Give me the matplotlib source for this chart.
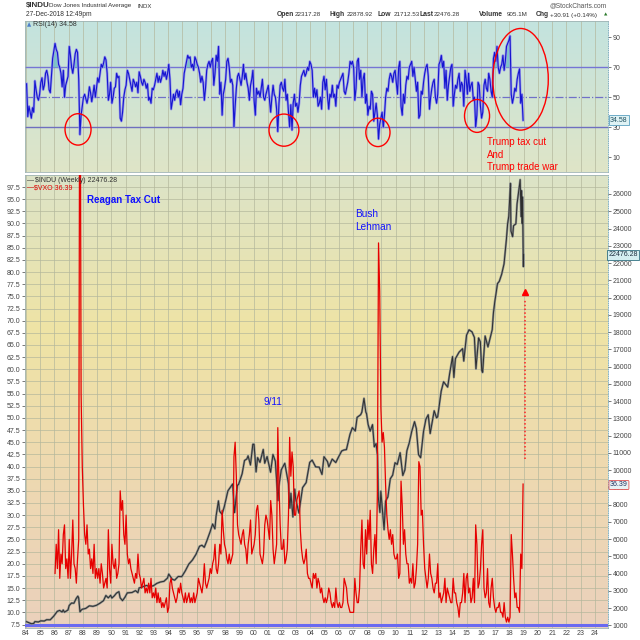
import numpy as np
import matplotlib
matplotlib.use('Agg')
import matplotlib.pyplot as plt
from matplotlib.patches import Ellipse
from matplotlib.colors import LinearSegmentedColormap
import pandas as pd

plt.rcParams['font.family'] = ['Liberation Sans', 'DejaVu Sans']

# ---------------- data ----------------
years = list(range(1984, 2025))
year_labels = [f"{y % 100:02d}" for y in years]

djia_dates = [
 '1984-01-15','1984-03-15','1984-05-15','1984-07-15','1984-08-15','1984-11-15',
 '1985-01-15','1985-04-15','1985-06-15','1985-09-15','1985-12-15',
 '1986-03-15','1986-05-15','1986-07-15','1986-08-15','1986-09-15','1986-12-15',
 '1987-01-15','1987-03-15','1987-05-15','1987-07-15','1987-08-25','1987-09-15','1987-10-19','1987-11-15','1987-12-15',
 '1988-03-15','1988-06-15','1988-09-15','1988-12-15',
 '1989-03-15','1989-06-15','1989-08-15','1989-10-15','1989-12-15',
 '1990-01-15','1990-03-15','1990-05-15','1990-07-15','1990-08-15','1990-10-15','1990-12-15',
 '1991-02-15','1991-04-15','1991-06-15','1991-09-15','1991-11-15','1991-12-15',
 '1992-03-15','1992-06-15','1992-09-15','1992-12-15',
 '1993-03-15','1993-06-15','1993-09-15','1993-12-15',
 '1994-01-15','1994-04-15','1994-06-15','1994-09-15','1994-12-15',
 '1995-03-15','1995-06-15','1995-09-15','1995-12-15',
 '1996-03-15','1996-05-15','1996-07-15','1996-09-15','1996-12-15',
 '1997-02-15','1997-04-15','1997-05-15','1997-07-15','1997-08-15','1997-10-15','1997-12-15',
 '1998-03-15','1998-07-15','1998-08-31','1998-09-15','1998-11-15','1998-12-15',
 '1999-03-15','1999-05-15','1999-07-15','1999-08-15','1999-10-15','1999-12-15',
 '2000-01-15','2000-03-07','2000-04-15','2000-06-15','2000-09-07','2000-10-15','2000-12-15',
 '2001-03-15','2001-05-15','2001-07-15','2001-09-21','2001-10-15','2001-12-15',
 '2002-03-15','2002-06-15','2002-07-23','2002-08-20','2002-10-09','2002-11-25','2002-12-20',
 '2003-03-11','2003-06-15','2003-09-15','2003-12-15',
 '2004-02-15','2004-05-15','2004-08-15','2004-10-25','2004-12-15',
 '2005-03-15','2005-04-20','2005-07-15','2005-10-15','2005-12-15',
 '2006-03-15','2006-05-15','2006-07-15','2006-10-15','2006-12-15',
 '2007-02-28','2007-04-15','2007-07-15','2007-08-15','2007-10-09','2007-11-25','2007-12-15',
 '2008-01-22','2008-03-15','2008-05-15','2008-06-30','2008-08-15','2008-09-20','2008-10-10','2008-11-20','2008-12-15',
 '2009-02-20','2009-03-09','2009-04-15','2009-06-15','2009-08-15','2009-10-15','2009-12-15',
 '2010-02-10','2010-04-25','2010-07-02','2010-08-25','2010-10-15','2010-12-15',
 '2011-02-15','2011-04-29','2011-06-15','2011-08-10','2011-10-03','2011-12-15',
 '2012-02-15','2012-04-15','2012-06-04','2012-09-15','2012-11-15','2012-12-15',
 '2013-03-15','2013-05-15','2013-08-28','2013-10-15','2013-12-31',
 '2014-02-03','2014-03-15','2014-06-15','2014-09-15','2014-10-15','2014-12-26',
 '2015-02-28','2015-05-15','2015-07-15','2015-08-24','2015-10-31','2015-12-15',
 '2016-01-20','2016-02-11','2016-04-15','2016-06-27','2016-10-15','2016-11-15','2016-12-20',
 '2017-02-28','2017-04-15','2017-06-15','2017-08-15','2017-10-15','2017-11-15','2017-12-15',
 '2018-01-26','2018-02-08','2018-03-23','2018-04-15','2018-06-15','2018-07-15','2018-08-15',
 '2018-09-15','2018-10-03','2018-10-26','2018-11-08','2018-11-23','2018-12-03','2018-12-24','2018-12-27',
]
djia_values = [
 1220,1165,1105,1115,1225,1205,
 1270,1260,1335,1330,1545,
 1820,1875,1780,1900,1770,1900,
 2160,2300,2290,2570,2700,2600,1790,1880,1940,
 1990,2140,2110,2170,
 2290,2440,2740,2600,2750,
 2590,2710,2880,2960,2610,2440,2630,
 2890,2900,2910,3020,2900,3170,
 3240,3320,3270,3300,
 3440,3520,3560,3750,
 3980,3680,3625,3840,3830,
 4160,4560,4790,5120,
 5590,5650,5530,5880,6450,
 6880,6600,7330,8220,7620,7440,7910,
 8800,9200,7540,7840,9120,9180,
 9790,10560,10650,10830,10300,11500,
 11500,9900,10730,10450,11200,10400,10790,
 9880,10910,10520,8240,9070,10020,
 10400,9240,7800,8660,7290,8900,8340,
 7520,8990,9280,10450,
 10580,10190,10170,9750,10780,
 10500,10190,10640,10440,10720,
 11110,11170,11190,12080,12460,
 12270,13060,13210,13360,14160,13370,13260,
 12650,12260,12640,11350,11540,10850,8450,7550,8780,
 7060,6550,8200,8450,9500,9710,10430,
 10330,11010,9690,10010,11120,11580,
 12230,12810,12410,10900,10720,12220,
 12950,13210,12120,13440,13030,13100,
 14580,15120,14810,15550,16580,
 15370,16460,16830,17040,16320,17820,
 18130,18010,17690,15870,17660,17430,
 15770,15660,17770,17140,18140,19120,19760,
 20810,20940,21350,21950,23380,24270,24720,
 26617,23860,23530,24160,24270,25420,25960,
 26460,26830,24690,26190,24290,25830,21790,22476,
]

vxo_start = 1986
vxo_values = [
 # 1986
 18, 24, 19, 27, 17, 22, 20, 26, 28, 19, 21, 17,
 # 1987
 25, 17, 22, 29, 20, 19, 16, 21, 25, 150, 55, 40,
 # 1988
 32, 26, 24, 28, 22, 23, 19, 21, 18, 24, 17, 19,
 # 1989
 17, 19, 16, 20, 18, 15, 16, 17, 15, 27, 19, 16,
 # 1990
 24, 20, 19, 21, 17, 18, 20, 35, 31, 33, 26, 24,
 # 1991
 30, 22, 20, 21, 19, 18, 17, 16, 18, 17, 22, 18,
 # 1992
 17, 15, 16, 17, 14, 15, 14, 16, 14, 17, 13, 14,
 # 1993
 13, 15, 12, 14, 12, 13, 11, 12, 11, 12, 13, 10,
 # 1994
 11, 16, 17, 15, 14, 13, 12, 13, 15, 14, 16, 14,
 # 1995
 13, 12, 14, 12, 13, 14, 12, 13, 12, 14, 12, 13,
 # 1996
 14, 17, 16, 15, 14, 16, 20, 16, 15, 16, 17, 19,
 # 1997
 18, 20, 21, 24, 19, 18, 20, 24, 22, 31, 27, 24,
 # 1998
 23, 21, 20, 22, 20, 21, 22, 42, 45, 38, 28, 26,
 # 1999
 25, 24, 26, 27, 24, 23, 20, 24, 26, 29, 22, 23,
 # 2000
 24, 26, 31, 32, 29, 22, 21, 20, 22, 28, 30, 29,
 # 2001
 27, 25, 33, 30, 23, 20, 22, 24, 48, 36, 28, 23,
 # 2002
 23, 25, 20, 21, 23, 30, 46, 38, 43, 40, 30, 30,
 # 2003
 33, 34, 35, 27, 23, 21, 20, 21, 23, 18, 17, 17,
 # 2004
 16, 15, 18, 17, 18, 15, 17, 16, 14, 15, 13, 12,
 # 2005
 13, 12, 13, 15, 14, 12, 11, 12, 11, 15, 12, 11,
 # 2006
 12, 11, 11, 12, 17, 16, 15, 12, 11, 10, 10, 10,
 # 2007
 10, 17, 14, 12, 12, 15, 23, 29, 20, 19, 27, 22,
 # 2008
 29, 25, 31, 20, 18, 23, 26, 20, 34, 86, 76, 52,
 # 2009
 45, 47, 44, 36, 30, 27, 25, 27, 24, 26, 22, 21,
 # 2010
 21, 22, 17, 18, 37, 32, 24, 27, 22, 20, 20, 16,
 # 2011
 17, 16, 20, 15, 16, 19, 24, 41, 40, 30, 31, 24,
 # 2012
 19, 17, 15, 17, 22, 18, 17, 15, 14, 16, 16, 20,
 # 2013
 13, 14, 12, 13, 14, 17, 12, 15, 14, 13, 12, 12,
 # 2014
 17, 14, 14, 12, 11, 9, 12, 12, 14, 18, 12, 17,
 # 2015
 18, 14, 15, 12, 13, 17, 12, 28, 24, 15, 16, 19,
 # 2016
 24, 27, 15, 13, 14, 19, 12, 11, 15, 17, 13, 11,
 # 2017
 10, 11, 11, 12, 10, 10, 9, 12, 9, 8, 9, 8,
 # 2018
 9, 26, 22, 17, 13, 14, 11, 11, 10, 22, 19, 36.39,
]

rsi_start = 1984
rsi_values = [
 59, 37, 44, 40, 36, 43, 40, 61, 55, 50, 48, 52,   # 1984
 60, 63, 55, 58, 66, 68, 64, 55, 53, 65, 76, 81,   # 1985
 86, 82, 80, 72, 70, 66, 57, 68, 50, 58, 61, 64,   # 1986
 84, 78, 70, 66, 72, 79, 82, 80, 62, 25, 38, 44,   # 1987
 50, 52, 49, 46, 50, 57, 53, 47, 52, 58, 50, 56,   # 1988
 63, 60, 66, 72, 70, 73, 77, 75, 66, 48, 52, 60,   # 1989
 46, 50, 56, 57, 66, 63, 64, 36, 34, 40, 50, 55,   # 1990
 58, 68, 66, 62, 58, 54, 62, 60, 57, 60, 53, 67,   # 1991
 64, 60, 58, 62, 60, 56, 59, 48, 50, 46, 56, 55,   # 1992
 58, 62, 66, 60, 64, 60, 63, 68, 64, 67, 62, 66,   # 1993
 72, 62, 42, 47, 52, 48, 53, 55, 50, 54, 45, 52,   # 1994
 56, 66, 70, 74, 78, 76, 77, 70, 72, 68, 77, 75,   # 1995
 72, 70, 66, 60, 64, 60, 48, 56, 68, 72, 74, 70,   # 1996
 74, 76, 58, 66, 78, 74, 84, 52, 60, 38, 52, 56,   # 1997
 62, 74, 76, 70, 60, 62, 58, 30, 44, 56, 64, 66,   # 1998
 62, 58, 64, 72, 62, 66, 60, 56, 48, 58, 62, 68,   # 1999
 48, 38, 56, 52, 54, 50, 56, 62, 50, 48, 52, 55,   # 2000
 58, 48, 40, 50, 58, 52, 50, 42, 27, 46, 58, 60,   # 2001
 56, 54, 62, 48, 52, 40, 30, 45, 28, 46, 52, 44,   # 2002
 46, 40, 46, 58, 64, 66, 68, 64, 66, 70, 68, 74,   # 2003
 72, 68, 50, 56, 50, 55, 44, 46, 50, 42, 60, 64,   # 2004
 55, 62, 50, 42, 52, 50, 58, 50, 52, 44, 58, 56,   # 2005
 60, 62, 64, 66, 54, 52, 56, 60, 66, 74, 72, 74,   # 2006
 70, 48, 56, 74, 76, 62, 68, 50, 62, 66, 46, 52,   # 2007
 38, 44, 42, 54, 52, 34, 40, 46, 38, 22, 32, 36,   # 2008
 40, 30, 38, 50, 56, 54, 62, 66, 64, 60, 66, 68,   # 2009
 60, 52, 70, 74, 44, 38, 52, 46, 58, 64, 62, 70,   # 2010
 72, 74, 64, 70, 62, 54, 60, 36, 38, 54, 52, 60,   # 2011
 66, 70, 72, 64, 42, 50, 56, 60, 62, 50, 46, 52,   # 2012
 72, 74, 78, 70, 74, 56, 68, 48, 58, 64, 70, 72,   # 2013
 44, 52, 58, 56, 62, 66, 54, 60, 58, 44, 68, 62,   # 2014
 52, 66, 54, 58, 60, 48, 50, 30, 38, 60, 58, 44,   # 2015
 36, 40, 58, 62, 56, 54, 66, 62, 54, 50, 76, 80,   # 2016
 74, 84, 70, 66, 70, 72, 78, 68, 74, 84, 86, 88,   # 2017
 91, 52, 46, 50, 56, 54, 62, 66, 69, 46, 52, 34.58, # 2018
]

vxo_ticks = [7.5 + 2.5 * i for i in range(37)]
djia_ticks = list(range(1000, 27000, 1000))
rsi_ticks = [10, 30, 50, 70, 90]

# ---------------- helpers ----------------
def to_dec(s):
    d = pd.Timestamp(s)
    return d.year + (d.dayofyear - 1) / 365.25

djia_t = np.array([to_dec(s) for s in djia_dates])
djia_v = np.array(djia_values, dtype=float)
vxo_v = np.array(vxo_values, dtype=float)
vxo_t = vxo_start + (np.arange(len(vxo_v)) + 0.5) / 12
rsi_v = np.array(rsi_values, dtype=float)
rsi_t = rsi_start + (np.arange(len(rsi_v)) + 0.5) / 12

W = H = 640
fig = plt.figure(figsize=(6.4, 6.4), dpi=100)
fig.patch.set_facecolor('white')

def fx(p): return p / W
def fy(p): return 1 - p / H

X0, X1 = 25, 608
RT, RB = 21, 172
MT, MB = 175, 628
XLIM = (1983.93, 2024.93)

ax_r = fig.add_axes([fx(X0), fy(RB), (X1 - X0) / W, (RB - RT) / H])
ax = fig.add_axes([fx(X0), fy(MB), (X1 - X0) / W, (MB - MT) / H])

def background(a, stops):
    cmap = LinearSegmentedColormap.from_list('g', stops)
    grad = np.linspace(0, 1, 256).reshape(-1, 1)
    a.imshow(grad, cmap=cmap, extent=[0, 1, 0, 1], transform=a.transAxes,
             aspect='auto', origin='lower', zorder=0)

background(ax_r, [(0, '#dfe5c7'), (1, '#c3e3df')])
background(ax, [(0, '#ebd1bc'), (0.35, '#eed9b0'), (0.66, '#efe4a5'), (1, '#dce3c8')])

grid_col = '#b3b79c'
tick_col = '#444444'
TS = 5.0

for a in (ax_r, ax):
    a.set_xlim(*XLIM)
    a.set_axisbelow(True)
    a.set_xticks(years)
    a.grid(axis='x', color=grid_col, lw=0.6, alpha=0.8)
    for s in a.spines.values():
        s.set_color('#9fb3b3')
        s.set_linewidth(0.6)
    a.spines['right'].set_linestyle(':')
    a.spines['right'].set_color('#6fa5b5')

# ---------------- RSI panel ----------------
ax_r.set_ylim(0, 101)
ax_r.set_xticklabels([])
ax_r.tick_params(axis='x', length=0)
ax_r.yaxis.tick_right()
ax_r.set_yticks(rsi_ticks)
ax_r.set_yticklabels([str(v) for v in rsi_ticks])
ax_r.tick_params(axis='y', labelsize=TS, colors=tick_col, length=2, width=0.5, pad=1.5)
ax_r.axhline(70, color='#7575d5', lw=1.0, zorder=2)
ax_r.axhline(30, color='#6f6fbf', lw=1.0, zorder=2)
ax_r.axhline(50, color='#7070c8', lw=0.9, ls='-.', zorder=2)
ax_r.fill_between(rsi_t, rsi_v, 70, where=rsi_v > 70, interpolate=True,
                  color='#76c2c6', alpha=0.9, zorder=3, lw=0)
ax_r.fill_between(rsi_t, rsi_v, 30, where=rsi_v < 30, interpolate=True,
                  color='#76c2c6', alpha=0.9, zorder=3, lw=0)
ax_r.plot(rsi_t, rsi_v, color='#9a9ae8', lw=1.8, zorder=4, solid_joinstyle='round')
ax_r.plot(rsi_t, rsi_v, color='#1515d0', lw=0.8, zorder=5)

# red ellipses
for (cx, cy, w, h) in [(1987.66, 28.5, 1.83, 21), (2002.14, 28.0, 2.1, 21.5),
                       (2008.75, 26.5, 1.7, 19), (2015.72, 37.5, 1.76, 22),
                       (2018.78, 62.0, 3.9, 68)]:
    ax_r.add_patch(Ellipse((cx, cy), w, h, fill=False, ec='#ff0000', lw=1.0, zorder=6,
                           clip_on=False))

# ---------------- main panel ----------------
ax.set_ylim(6.78, 99.97)
ax.set_yticks(vxo_ticks)
ax.set_yticklabels([f"{v:.1f}" for v in vxo_ticks])
ax.grid(axis='y', color=grid_col, lw=0.6, alpha=0.8)
ax.set_xticklabels(year_labels)
ax.tick_params(axis='x', labelsize=TS, colors=tick_col, length=0, pad=1.2)
ax.tick_params(axis='y', labelsize=TS, colors=tick_col, length=2, width=0.5, pad=1.5)

ax2 = ax.twinx()
ax2.set_ylim(855, 27100)
ax2.set_yticks(djia_ticks)
ax2.set_yticklabels([str(v) for v in djia_ticks])
ax2.tick_params(axis='y', labelsize=TS, colors=tick_col, length=2, width=0.5, pad=1.5)
for s in ax2.spines.values():
    s.set_visible(False)
ax2.axhline(1000, color='#6a6af0', lw=2.2, zorder=2)
ax2.plot(djia_t, djia_v, color='#8a8f8f', lw=1.6, zorder=3)
ax2.plot(djia_t, djia_v, color='#2e2e2e', lw=0.7, zorder=4)

ax3 = ax.twinx()
ax3.set_ylim(ax.get_ylim())
ax3.set_axis_off()
ax3.plot(vxo_t, vxo_v, color='#e60000', lw=0.9, zorder=5)
# dotted red arrow
ax3.plot([2019.1, 2019.1], [41.5, 74.5], color='#ff2020', lw=1.1, ls=(0, (1, 1.5)), zorder=6)
ax3.plot([2019.1], [76.0], marker='^', color='#ff0000', ms=5, zorder=6)

# ---------------- texts ----------------
T = dict(va='center', ha='left', color='#333333')
fig.text(fx(26), fy(6), '$INDU', fontsize=5.8, fontweight='bold', **T)
fig.text(fx(49), fy(6), 'Dow Jones Industrial Average', fontsize=4.5, **T)
fig.text(fx(138), fy(6), 'INDX', fontsize=4.3, **T)
fig.text(fx(26), fy(15), '27-Dec-2018 12:49pm', fontsize=4.8, **T)
fig.text(fx(607), fy(6), '@StockCharts.com', fontsize=4.8, va='center', ha='right', color='#555555')
hdr = [(277, 'Open', True), (295, '22317.28', False), (330, 'High', True), (347, '22878.92', False),
       (378, 'Low', True), (394, '21712.53', False), (419, 'Last', True), (434, '22476.28', False),
       (479, 'Volume', True), (507, '905.1M', False), (536, 'Chg', True),
       (550, '+30.91 (+0.14%)', False)]
for px, s, b in hdr:
    fig.text(fx(px), fy(15), s, fontsize=4.5 if not b else 4.9,
             fontweight='bold' if b else 'normal', **T)
fig.text(fx(604), fy(15), '▲', fontsize=3.2, va='center', ha='left', color='#2a7a2a',
         family=['DejaVu Sans'])

fig.text(fx(27), fy(25), '▲', fontsize=4, va='center', ha='left', color='#4f7fc8',
         family=['DejaVu Sans'])
fig.text(fx(33), fy(25), 'RSI(14) 34.58', fontsize=5.0, va='center', ha='left', color='#333333')

fig.text(fx(27), fy(181), '—', fontsize=5.0, va='center', ha='left', color='#333333')
fig.text(fx(35), fy(181), '$INDU (Weekly) 22476.28', fontsize=5.0, va='center', ha='left', color='#333333')
fig.text(fx(27), fy(188), '—', fontsize=5.0, va='center', ha='left', color='#e00000')
fig.text(fx(34), fy(188), '$VXO 36.39', fontsize=5.0, va='center', ha='left', color='#e00000')

fig.text(fx(87), fy(200), 'Reagan Tax Cut', fontsize=7.0, fontweight='bold', color='#1010ff',
         va='center', ha='left')
fig.text(fx(355), fy(214), 'Bush', fontsize=7.2, color='#1010ff', va='center', ha='left')
fig.text(fx(355), fy(227), 'Lehman', fontsize=7.2, color='#1010ff', va='center', ha='left')
fig.text(fx(263), fy(402), '9/11', fontsize=7.2, color='#1010ff', va='center', ha='left')
for py, s in [(142, 'Trump tax cut'), (155, 'And'), (167, 'Trump trade war')]:
    fig.text(fx(487), fy(py), s, fontsize=7.0, color='#ff0000', va='center', ha='left')

fig.text(fx(610), fy(120), '34.58', fontsize=5.0, va='center', ha='left', color='#205060',
         bbox=dict(boxstyle='square,pad=0.15', fc='#dff2f4', ec='#5aa0c0', lw=0.6))
fig.text(fx(608.5), fy(255), '22476.28', fontsize=5.0, va='center', ha='left', color='#203040',
         bbox=dict(boxstyle='square,pad=0.15', fc='#d4eef0', ec='#2f6f80', lw=0.6))
fig.text(fx(610), fy(485), '36.39', fontsize=5.0, va='center', ha='left', color='#203060',
         bbox=dict(boxstyle='round,pad=0.15', fc='#e8f2f4', ec='#e05050', lw=0.6))

fig.savefig('out.png', dpi=100, facecolor='white')
